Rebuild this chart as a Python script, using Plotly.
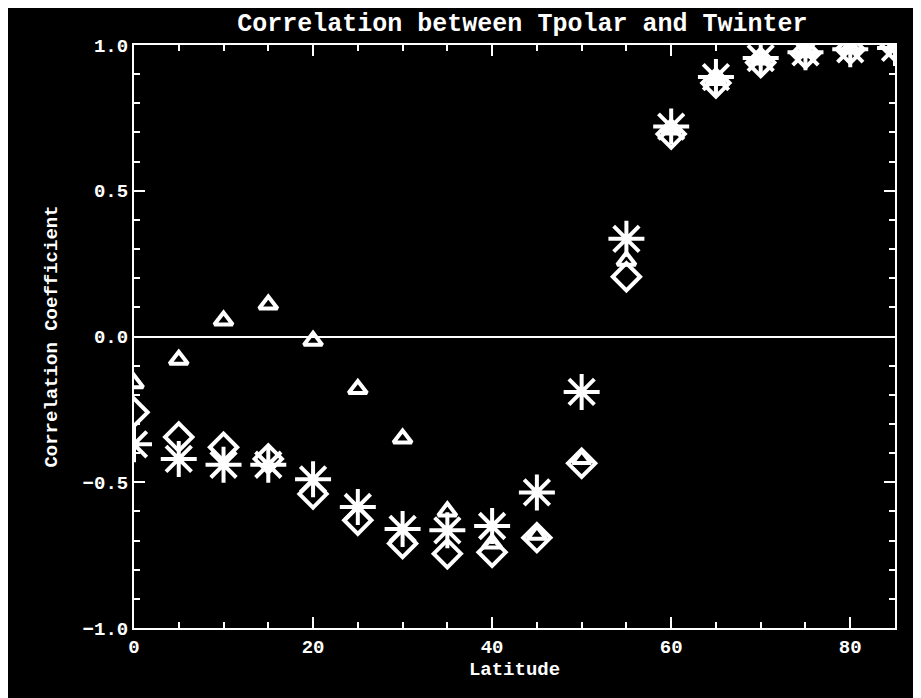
import plotly.graph_objects as go

# latitude grid
latitude = [0, 5, 10, 15, 20, 25, 30, 35, 40, 45, 50, 55, 60, 65, 70, 75, 80, 85]

# correlation coefficients
corr_triangle = [-0.16, -0.08, 0.055, 0.11, -0.015, -0.18, -0.35, -0.60, -0.71,
                 -0.68, -0.42, 0.26, 0.71, 0.88, 0.95, 0.975, 0.99, 0.995]
corr_diamond = [-0.26, -0.345, -0.38, -0.42, -0.54, -0.63, -0.71, -0.745, -0.74,
                -0.69, -0.435, 0.205, 0.695, 0.87, 0.94, 0.97, 0.985, 0.995]
corr_asterisk = [-0.37, -0.42, -0.44, -0.44, -0.49, -0.585, -0.66, -0.665, -0.65,
                 -0.535, -0.19, 0.335, 0.72, 0.89, 0.955, 0.975, 0.985, 0.99]

FONT = "Liberation Mono"

fig = go.Figure()
fig.add_trace(go.Scatter(x=latitude, y=corr_triangle, mode='markers',
                         marker=dict(symbol='triangle-up-open', size=16,
                                     color='white', line=dict(color='white', width=4))))
fig.add_trace(go.Scatter(x=latitude, y=corr_diamond, mode='markers',
                         marker=dict(symbol='diamond-open', size=21,
                                     color='white', line=dict(color='white', width=4))))
fig.add_trace(go.Scatter(x=latitude, y=corr_asterisk, mode='markers',
                         marker=dict(symbol='asterisk-open', size=30,
                                     color='white', line=dict(color='white', width=4))))

axis_common = dict(showgrid=False, showline=True, linecolor='white', linewidth=2,
                   mirror='allticks', ticks='inside', tickcolor='white', tickwidth=2,
                   ticklen=11, tickfont=dict(family=FONT, size=19, color='white', weight='bold'))

fig.update_xaxes(range=[0, 85], tick0=0, dtick=20,
                 minor=dict(dtick=5, ticks='inside', ticklen=6, tickcolor='white', tickwidth=2),
                 title=dict(text='Latitude', font=dict(family=FONT, size=19, color='white', weight='bold'),
                            standoff=0),
                 zeroline=False, **axis_common)
fig.update_yaxes(range=[-1, 1], tick0=-1, dtick=0.5, tickformat='.1f',
                 minor=dict(dtick=0.1, ticks='inside', ticklen=6, tickcolor='white', tickwidth=2),
                 title=dict(text='Correlation Coefficient', font=dict(family=FONT, size=19, color='white', weight='bold'),
                            standoff=20),
                 zeroline=True, zerolinecolor='white', zerolinewidth=2, **axis_common)

fig.update_layout(width=921, height=698,
                  paper_bgcolor='black', plot_bgcolor='black',
                  showlegend=False,
                  margin=dict(l=126, r=34, t=37, b=78),
                  title=dict(text='Correlation between Tpolar and Twinter', x=0.5585, xanchor='center',
                             y=0.992, yanchor='top',
                             font=dict(family=FONT, size=25, color='white', weight='bold')))

fig.write_html("out.html")
